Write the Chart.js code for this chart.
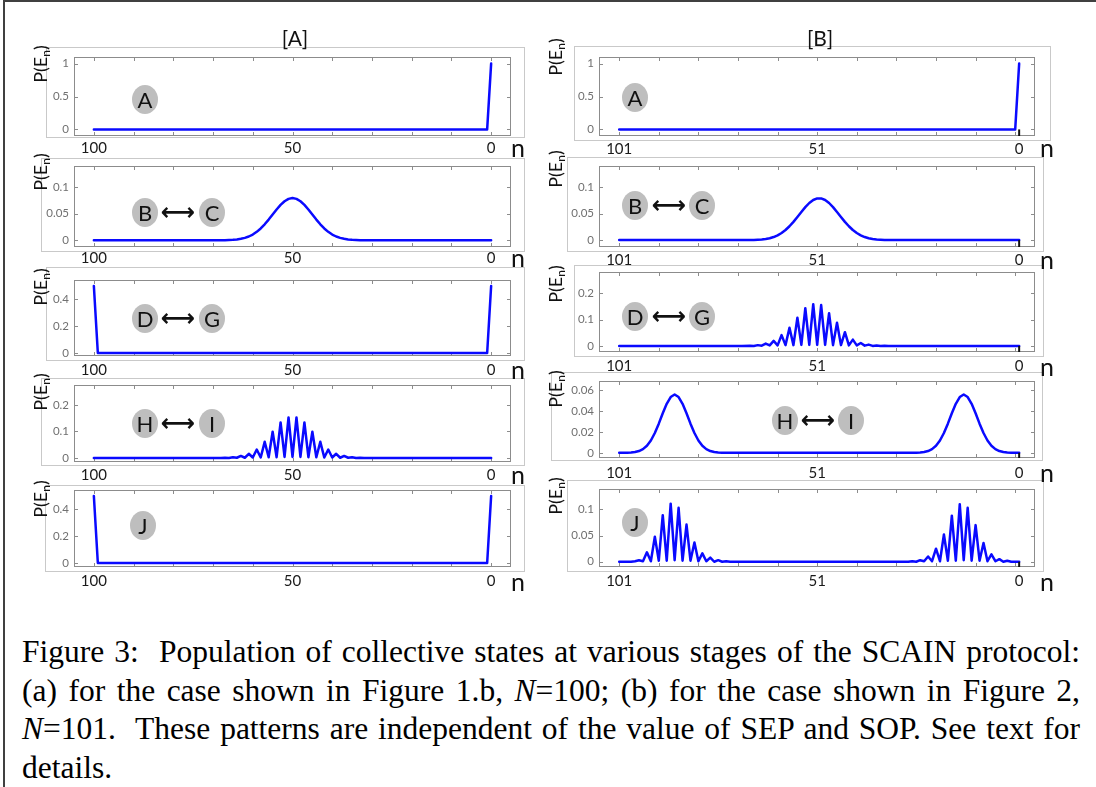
<!DOCTYPE html>
<html>
<head>
<meta charset="utf-8">
<script src="https://cdn.jsdelivr.net/npm/chart.js@4.4.1/dist/chart.umd.min.js"></script>
<style>
  body { margin: 0; background: #fff; }
  #page { position: relative; width: 1096px; height: 787px; overflow: hidden; background: #fff; font-family: Lato, "Open Sans", sans-serif; }
  #frame { position: absolute; left: 3px; top: 0; width: 1093px; height: 787px; border-left: 2px solid #404040; border-top: 2px solid #404040; box-sizing: border-box; }
  .outer { position: absolute; border: 1.5px solid #c9c9c9; box-sizing: border-box; }
  .panel { position: absolute; }
  .txt { position: absolute; transform: translate(-50%, -50%); white-space: nowrap; color: #111; line-height: 1; }
  .ttl { font-size: 21px; }
  .nlab { font-size: 25px; }
  .ylab { font-size: 18px; transform: translate(-50%, -50%) rotate(-90deg); }
  .ylab sub { font-size: 12px; vertical-align: -3px; }
  .bub { position: absolute; width: 26px; height: 29px; margin: -14.5px 0 0 -13px; border-radius: 50%; background: #bebebe; font-size: 22px; line-height: 29px; text-align: center; color: #111; }
  .arr { font-size: 24px; font-weight: bold; font-family: "DejaVu Sans", sans-serif; }
  #caption { position: absolute; left: 22px; top: 633px; width: 1058px; font-family: "Liberation Serif", "Times New Roman", serif; font-size: 31.5px; line-height: 38.5px; color: #000; }
  #caption div { white-space: nowrap; text-align: justify; text-align-last: justify; }
  #caption div.last { text-align-last: left; }
</style>
</head>
<body>
<div id="page">
  <div id="frame"></div>
  <div id="caption">
    <div>Figure 3:&nbsp; Population of collective states at various stages of the SCAIN protocol:</div>
    <div>(a) for the case shown in Figure 1.b, <i>N</i>=100; (b) for the case shown in Figure 2,</div>
    <div><i>N</i>=101.&nbsp; These patterns are independent of the value of SEP and SOP. See text for</div>
    <div class="last">details.</div>
  </div>
</div>
<script>
// x axis: state index n (reversed), ticks every 10
const nTicksA = [100, 90, 80, 70, 60, 50, 40, 30, 20, 10, 0];
const nLabelsA = [100, 50, 0];
const nTicksB = [101, 91, 81, 71, 61, 51, 41, 31, 21, 11, 1];
const nLabelsB = [101, 51, 0];

// y ticks of each panel
const yTicksA = [0, 0.5, 1];
const yTicksBC = [0, 0.05, 0.1];
const yTicksDG100 = [0, 0.2, 0.4];
const yTicksHI100 = [0, 0.1, 0.2];
const yTicksJ100 = [0, 0.2, 0.4];
const yTicksDG101 = [0, 0.1, 0.2];
const yTicksHI101 = [0, 0.02, 0.04, 0.06];
const yTicksJ101 = [0, 0.05, 0.1];

// populations [n, P(E_n)] -- column [A], N=100
const popA_N100 = [[100, 0], [1, 0], [0, 1]];
const popBC_N100 = [[100, 0], [68, 0.0001], [67, 0.0002], [66, 0.0005], [65, 0.0009], [64, 0.0016], [63, 0.0027], [62, 0.0045],
  [61, 0.0071], [60, 0.0108], [59, 0.0159], [58, 0.0223], [57, 0.0301], [56, 0.039], [55, 0.0485], [54, 0.058], [53, 0.0666],
  [52, 0.0735], [51, 0.078], [50, 0.0796], [49, 0.078], [48, 0.0735], [47, 0.0666], [46, 0.058], [45, 0.0485], [44, 0.039],
  [43, 0.0301], [42, 0.0223], [41, 0.0159], [40, 0.0108], [39, 0.0071], [38, 0.0045], [37, 0.0027], [36, 0.0016], [35, 0.0009],
  [34, 0.0005], [33, 0.0002], [32, 0.0001], [0, 0]];
const popDG_N100 = [[100, 0.5], [99, 0], [1, 0], [0, 0.5]];
const popHI_N100 = [[100, 0], [68, 0], [67, 0.001], [66, 0], [65, 0.003], [64, 0.001], [63, 0.008], [62, 0.001], [61, 0.016],
  [60, 0.002], [59, 0.032], [58, 0.002], [57, 0.061], [56, 0.003], [55, 0.099], [54, 0.003], [53, 0.134], [52, 0.004],
  [51, 0.153], [50, 0.004], [49, 0.153], [48, 0.004], [47, 0.134], [46, 0.003], [45, 0.099], [44, 0.003], [43, 0.061],
  [42, 0.002], [41, 0.032], [40, 0.002], [39, 0.016], [38, 0.001], [37, 0.008], [36, 0.001], [35, 0.003], [34, 0],
  [33, 0.001], [32, 0], [0, 0]];
const popJ_N100 = [[100, 0.5], [99, 0], [1, 0], [0, 0.5]];

// column [B], N=101
const popA_N101 = [[101, 0], [1, 0], [0, 1]];
const popBC_N101 = [[101, 0], [69, 0], [68, 0.0002], [67, 0.0003], [66, 0.0007], [65, 0.0012], [64, 0.0021], [63, 0.0036],
  [62, 0.0058], [61, 0.009], [60, 0.0134], [59, 0.0191], [58, 0.0262], [57, 0.0345], [56, 0.0437], [55, 0.0532], [54, 0.0623],
  [53, 0.0701], [52, 0.0758], [51, 0.0788], [50, 0.0788], [49, 0.0758], [48, 0.0701], [47, 0.0623], [46, 0.0532], [45, 0.0437],
  [44, 0.0345], [43, 0.0262], [42, 0.0191], [41, 0.0134], [40, 0.009], [39, 0.0058], [38, 0.0036], [37, 0.0021], [36, 0.0012],
  [35, 0.0007], [34, 0.0003], [33, 0.0002], [32, 0], [0, 0]];
const popDG_N101 = [[101, 0], [70, 0], [68, 0.001], [67, 0], [66, 0.003], [65, 0.001], [64, 0.009], [63, 0.002], [62, 0.019],
  [61, 0.002], [60, 0.041], [59, 0.003], [58, 0.069], [57, 0.003], [56, 0.107], [55, 0.004], [54, 0.143], [53, 0.004],
  [52, 0.158], [51, 0.004], [50, 0.155], [49, 0.004], [48, 0.124], [47, 0.003], [46, 0.088], [45, 0.003], [44, 0.052],
  [43, 0.002], [42, 0.024], [41, 0.002], [40, 0.011], [39, 0.001], [38, 0.005], [37, 0], [36, 0.002], [35, 0], [34, 0.001],
  [33, 0], [0, 0]];
const popHI_N101 = [[101, 0], [99, 0], [98, 0.0003], [97, 0.0007], [96, 0.0017], [95, 0.0035], [94, 0.0067], [93, 0.0118],
  [92, 0.019], [91, 0.028], [90, 0.038], [89, 0.0471], [88, 0.0536], [87, 0.056], [86, 0.0536], [85, 0.0471], [84, 0.038],
  [83, 0.028], [82, 0.019], [81, 0.0118], [80, 0.0067], [79, 0.0035], [78, 0.0017], [77, 0.0007], [76, 0.0003], [75, 0],
  [26, 0], [25, 0.0003], [24, 0.0007], [23, 0.0017], [22, 0.0035], [21, 0.0067], [20, 0.0118], [19, 0.019], [18, 0.028],
  [17, 0.038], [16, 0.0471], [15, 0.0536], [14, 0.056], [13, 0.0536], [12, 0.0471], [11, 0.038], [10, 0.028], [9, 0.019],
  [8, 0.0118], [7, 0.0067], [6, 0.0035], [5, 0.0017], [4, 0.0007], [3, 0.0003], [2, 0], [0, 0]];
const popJ_N101 = [[101, 0], [98, 0], [97, 0.001], [96, 0.003], [95, 0.001], [94, 0.018], [93, 0.001], [92, 0.048], [91, 0.002],
  [90, 0.089], [89, 0.002], [88, 0.111], [87, 0.003], [86, 0.103], [85, 0.002], [84, 0.071], [83, 0.002], [82, 0.037],
  [81, 0.001], [80, 0.016], [79, 0.001], [78, 0.008], [77, 0], [76, 0.003], [75, 0], [74, 0.001], [73, 0],
  [28, 0], [27, 0.001], [26, 0], [25, 0.003], [24, 0.001], [23, 0.01], [22, 0.001], [21, 0.025], [20, 0.001], [19, 0.052],
  [18, 0.002], [17, 0.088], [16, 0.002], [15, 0.11], [14, 0.003], [13, 0.103], [12, 0.002], [11, 0.07], [10, 0.002],
  [9, 0.036], [8, 0.001], [7, 0.014], [6, 0.001], [5, 0.005], [4, 0], [3, 0.002], [2, 0], [0, 0]];

// layout: plot box [left, top, right, bottom], y limits, x-label padding
const panels = [
  { col: 'A', data: popA_N100, yTicks: yTicksA, yMin: -0.1, yMax: 1.1, box: [74, 57, 511, 136], labPad: 3.5 },
  { col: 'A', data: popBC_N100, yTicks: yTicksBC, yMin: -0.0127, yMax: 0.14, box: [74, 166, 511, 247], labPad: 2.5 },
  { col: 'A', data: popDG_N100, yTicks: yTicksDG100, yMin: -0.0225, yMax: 0.545, box: [74, 280, 511, 356], labPad: 5 },
  { col: 'A', data: popHI_N100, yTicks: yTicksHI100, yMin: -0.015, yMax: 0.275, box: [74, 385, 511, 462], labPad: 4 },
  { col: 'A', data: popJ_N100, yTicks: yTicksJ100, yMin: -0.03, yMax: 0.545, box: [74, 490, 511, 567], labPad: 5.5 },
  { col: 'B', data: popA_N101, yTicks: yTicksA, yMin: -0.1, yMax: 1.1, box: [599, 57, 1035, 136], labPad: 4 },
  { col: 'B', data: popBC_N101, yTicks: yTicksBC, yMin: -0.013, yMax: 0.14, box: [599, 166, 1035, 247], labPad: 4 },
  { col: 'B', data: popDG_N101, yTicks: yTicksDG101, yMin: -0.023, yMax: 0.28, box: [599, 272, 1035, 352], labPad: 5.5 },
  { col: 'B', data: popHI_N101, yTicks: yTicksHI101, yMin: -0.005, yMax: 0.069, box: [599, 381, 1035, 458], labPad: 6.5 },
  { col: 'B', data: popJ_N101, yTicks: yTicksJ101, yMin: -0.01, yMax: 0.139, box: [599, 489, 1035, 567], labPad: 5.5 }
];

// light grey frames around each exported subplot
const outerBoxes = [
  [46, 47, 525, 138], [41, 158, 525, 252], [46, 267, 525, 361], [41, 378, 525, 466], [45, 485, 525, 572],
  [574, 46, 1051, 141], [567, 157, 1044, 252], [574, 265, 1044, 357], [551, 372, 1043, 461], [567, 480, 1044, 572]
];

const page = document.getElementById('page');

function addEl(cls, html, x, y) {
  const d = document.createElement('div');
  d.className = cls;
  d.innerHTML = html;
  d.style.left = x + 'px';
  d.style.top = y + 'px';
  page.appendChild(d);
  return d;
}

outerBoxes.forEach(b => {
  const d = addEl('outer', '', b[0], b[1]);
  d.style.width = (b[2] - b[0]) + 'px';
  d.style.height = (b[3] - b[1]) + 'px';
});

// matlab style box with inward ticks
function boxPlugin(marks, p) {
  return {
    id: 'matBox',
    beforeDatasetsDraw(chart) {
      const { ctx, chartArea: a, scales: { x, y } } = chart;
      ctx.save();
      ctx.strokeStyle = '#8c8c8c';
      ctx.lineWidth = 1;
      ctx.strokeRect(a.left + 0.5, a.top + 0.5, a.right - a.left - 1, a.bottom - a.top - 1);
      ctx.beginPath();
      marks.forEach(v => {
        const px = Math.round(x.getPixelForValue(v)) + 0.5;
        ctx.moveTo(px, a.top); ctx.lineTo(px, a.top + 4);
        ctx.moveTo(px, a.bottom); ctx.lineTo(px, a.bottom - 4);
      });
      p.yTicks.forEach(v => {
        const py = Math.round(y.getPixelForValue(v)) + 0.5;
        ctx.moveTo(a.left, py); ctx.lineTo(a.left + 4, py);
        ctx.moveTo(a.right, py); ctx.lineTo(a.right - 4, py);
      });
      ctx.stroke();
      ctx.restore();
    },
    afterDatasetsDraw(chart) {
      if (p.col !== 'B') return;
      // dark mark under n = 0
      const { ctx, chartArea: a, scales: { x, y } } = chart;
      const px = x.getPixelForValue(0);
      ctx.save();
      ctx.strokeStyle = '#111';
      ctx.lineWidth = 2;
      ctx.beginPath();
      ctx.moveTo(px, y.getPixelForValue(0));
      ctx.lineTo(px, a.bottom);
      ctx.stroke();
      ctx.restore();
    }
  };
}

function makePanel(p) {
  const [x0, y0, x1, y1] = p.box;
  const YW = 40, PT = 14, PR = 10, XH = 30;
  const w = YW + (x1 - x0) + PR;
  const h = PT + (y1 - y0) + XH;
  const cv = document.createElement('canvas');
  cv.className = 'panel';
  cv.width = w;
  cv.height = h;
  cv.style.left = (x0 - YW) + 'px';
  cv.style.top = (y0 - PT) + 'px';
  cv.style.width = w + 'px';
  cv.style.height = h + 'px';
  page.appendChild(cv);

  const isA = p.col === 'A';
  const marks = isA ? nTicksA : nTicksB;
  const labs = isA ? nLabelsA : nLabelsB;
  const allTicks = marks.concat(labs.filter(v => !marks.includes(v)));

  new Chart(cv, {
    type: 'line',
    data: {
      datasets: [{
        data: p.data.map(d => ({ x: d[0], y: d[1] })),
        borderColor: '#0a0aff',
        borderWidth: 2.5,
        pointRadius: 0,
        tension: 0,
        borderJoinStyle: 'round',
        borderCapStyle: 'round',
        fill: false
      }]
    },
    options: {
      responsive: false,
      animation: false,
      devicePixelRatio: 1,
      layout: { padding: { left: 0, top: PT, right: PR, bottom: 0 } },
      plugins: { legend: { display: false }, tooltip: { enabled: false } },
      scales: {
        x: {
          type: 'linear',
          reverse: true,
          min: isA ? -5 : -4,
          max: isA ? 105 : 106.1,
          grid: { display: false, drawTicks: false },
          border: { display: false },
          afterBuildTicks: s => { s.ticks = allTicks.map(v => ({ value: v })); },
          afterFit: s => { s.height = XH; },
          ticks: {
            autoSkip: false, maxRotation: 0, padding: p.labPad,
            color: '#1a1a1a', font: { family: 'Lato', size: 15 },
            callback: v => labs.includes(v) ? String(v) : ''
          }
        },
        y: {
          min: p.yMin,
          max: p.yMax,
          grid: { display: false, drawTicks: false },
          border: { display: false },
          afterBuildTicks: s => { s.ticks = p.yTicks.map(v => ({ value: v })); },
          afterFit: s => { s.width = YW; },
          ticks: {
            padding: 5, color: '#707070', font: { family: 'Lato', size: 11.5 },
            callback: v => String(v)
          }
        }
      }
    },
    plugins: [boxPlugin(marks, p)]
  });
}

panels.forEach(makePanel);

// titles, axis names, stage bubbles
addEl('txt ttl', '[A]', 295, 37);
addEl('txt ttl', '[B]', 820, 37);

const yNameL = [[41, 64], [41, 172], [41, 287], [41, 392], [41, 499]];
const yNameR = [[556, 57], [556, 169], [556, 284], [556, 389], [556, 496]];
yNameL.concat(yNameR).forEach(q => addEl('txt ylab', 'P(E<sub>n</sub>)', q[0], q[1]));

const nNameL = [148, 258, 370, 475, 582];
const nNameR = [148, 260, 367, 473, 582];
nNameL.forEach(y => addEl('txt nlab', 'n', 518, y - 1));
nNameR.forEach(y => addEl('txt nlab', 'n', 1047, y - 1));

function bubble(letter, x, y) { addEl('bub', letter, x, y); }
function arrow(x, y) { addEl('txt arr', '\u27F7', x, y); }

bubble('A', 145, 99);
bubble('B', 145, 212); arrow(178, 212); bubble('C', 212, 212);
bubble('D', 145, 318); arrow(178, 318); bubble('G', 212, 318);
bubble('H', 145, 423); arrow(178, 423); bubble('I', 212, 423);
bubble('J', 143, 525);

bubble('A', 635, 97);
bubble('B', 635, 205); arrow(669, 205); bubble('C', 702, 205);
bubble('D', 635, 316); arrow(669, 316); bubble('G', 702, 316);
bubble('H', 785, 420); arrow(818, 420); bubble('I', 851, 420);
bubble('J', 635, 522);
</script>
</body>
</html>
